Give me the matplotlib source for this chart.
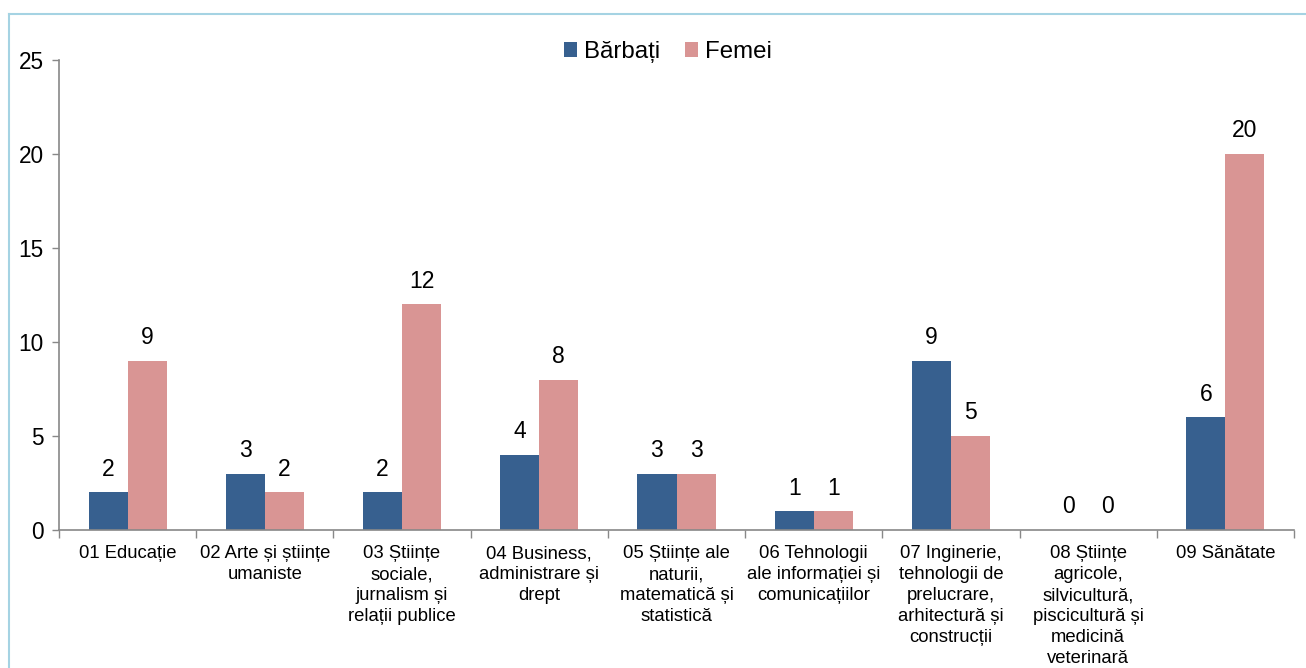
import matplotlib
matplotlib.use("Agg")
import matplotlib.pyplot as plt
import numpy as np
from matplotlib.lines import Line2D

categories = [
    "01 Educație",
    "02 Arte și științe\numaniste",
    "03 Științe\nsociale,\njurnalism și\nrelații publice",
    "04 Business,\nadministrare și\ndrept",
    "05 Științe ale\nnaturii,\nmatematică și\nstatistică",
    "06 Tehnologii\nale informației și\ncomunicațiilor",
    "07 Inginerie,\ntehnologii de\nprelucrare,\narhitectură și\nconstrucții",
    "08 Științe\nagricole,\nsilvicultură,\npiscicultură și\nmedicină\nveterinară",
    "09 Sănătate",
]
barbati = [2, 3, 2, 4, 3, 1, 9, 0, 6]
femei = [9, 2, 12, 8, 3, 1, 5, 0, 20]
series_names = ["Bărbați", "Femei"]
y_ticks = [0, 5, 10, 15, 20, 25]

plt.rcParams['font.family'] = ['Liberation Sans', 'DejaVu Sans']

W, H = 1306, 668
fig = plt.figure(figsize=(W / 100, H / 100), dpi=100)

# light blue frame (top & left visible)
fig.add_artist(Line2D([9 / W, 9 / W], [0, 1 - 14 / H], transform=fig.transFigure,
                      color="#A5D3E3", lw=1.5))
fig.add_artist(Line2D([9 / W, 1], [1 - 14 / H, 1 - 14 / H], transform=fig.transFigure,
                      color="#A5D3E3", lw=1.5))

left, right = 59 / W, 1294 / W
bottom, top = 1 - 530 / H, 1 - 60 / H
ax = fig.add_axes([left, bottom, right - left, top - bottom])

x = np.arange(len(categories))
bw = 0.285
c_b = "#37608F"
c_f = "#D99594"
b1 = ax.bar(x - bw / 2, barbati, bw, color=c_b, label=series_names[0], zorder=2)
b2 = ax.bar(x + bw / 2, femei, bw, color=c_f, label=series_names[1], zorder=2)

for bars, vals in ((b1, barbati), (b2, femei)):
    for rect, v in zip(bars, vals):
        ax.annotate(str(v), (rect.get_x() + rect.get_width() / 2, v),
                    xytext=(0, 8.3), textcoords="offset points",
                    ha="center", va="bottom", fontsize=16.5, color="#000000")

ax.set_xlim(-0.5, len(categories) - 0.5)
ax.set_ylim(0, 25)
ax.set_yticks(y_ticks)
ax.tick_params(axis="y", labelsize=16.3, length=5, width=1, color="#888888", pad=6)

ax.set_xticks(np.arange(len(categories) + 1) - 0.5)
ax.set_xticklabels([])
ax.set_xticks(x, minor=True)
ax.set_xticklabels(categories, minor=True, fontsize=13.3, linespacing=1.3, va="top")
ax.tick_params(axis="x", which="major", length=6, width=1, color="#888888")
ax.tick_params(axis="x", which="minor", length=0, pad=11)

for s in ("top", "right"):
    ax.spines[s].set_visible(False)
for s in ("left", "bottom"):
    ax.spines[s].set_color("#888888")
    ax.spines[s].set_linewidth(1.2)

fig.legend(handles=[b1, b2], labels=series_names, loc="center",
           bbox_to_anchor=(668 / W, 1 - 52 / H), ncol=2, frameon=False,
           fontsize=17.3, handlelength=0.55, handleheight=0.55, handletextpad=0.3,
           columnspacing=1.0)

fig.savefig("out.png", dpi=100)
